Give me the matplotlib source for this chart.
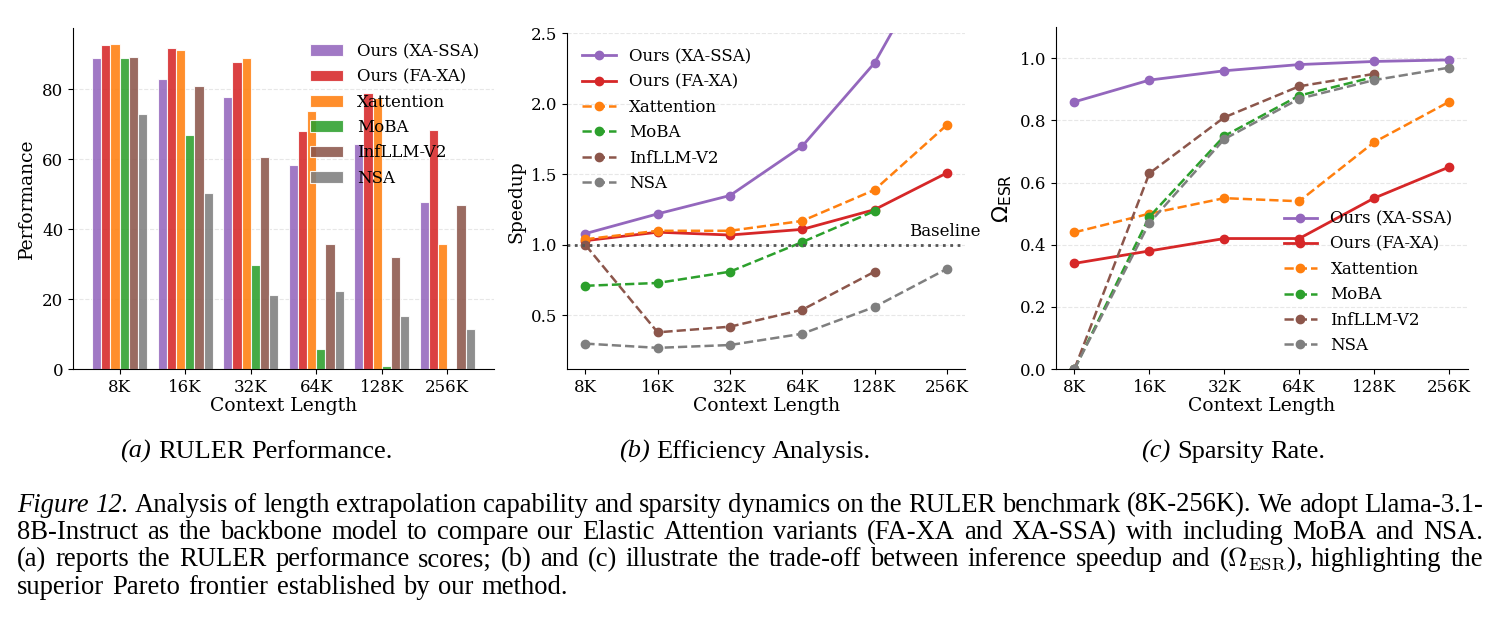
import numpy as np
import matplotlib
matplotlib.use("Agg")
import matplotlib.pyplot as plt

plt.rcParams['font.family'] = ['DejaVu Serif']

contexts = ['8K', '16K', '32K', '64K', '128K', '256K']
methods = ['Ours (XA-SSA)', 'Ours (FA-XA)', 'Xattention', 'MoBA', 'InfLLM-V2', 'NSA']
colors = ['#9467bd', '#d62728', '#ff7f0e', '#2ca02c', '#8c564b', '#7f7f7f']
styles = ['-', '-', '--', '--', '--', '--']

# (a) RULER performance
perf_xa_ssa = [88.9, 82.8, 77.6, 58.4, 64.3, 47.6]
perf_fa_xa = [92.7, 91.8, 87.6, 68.1, 78.8, 68.4]
perf_xatt = [92.8, 91.1, 88.9, 73.7, 77.4, 35.6]
perf_moba = [88.9, 66.9, 29.8, 5.8, 1.0, 0.0]
perf_infllm = [89.1, 80.8, 60.7, 35.6, 32.1, 47.0]
perf_nsa = [73.0, 50.4, 21.2, 22.3, 15.2, 11.3]

# (b) speedup
sp_xa_ssa = [1.08, 1.22, 1.35, 1.70, 2.29, 3.20]
sp_fa_xa = [1.03, 1.09, 1.07, 1.11, 1.25, 1.51]
sp_xatt = [1.04, 1.10, 1.10, 1.17, 1.39, 1.85]
sp_moba = [0.71, 0.73, 0.81, 1.02, 1.24, None]
sp_infllm = [1.00, 0.38, 0.42, 0.54, 0.81, None]
sp_nsa = [0.30, 0.27, 0.29, 0.37, 0.56, 0.83]

# (c) sparsity rate
esr_xa_ssa = [0.86, 0.93, 0.96, 0.98, 0.99, 0.995]
esr_fa_xa = [0.34, 0.38, 0.42, 0.42, 0.55, 0.65]
esr_xatt = [0.44, 0.50, 0.55, 0.54, 0.73, 0.86]
esr_moba = [0.0, 0.49, 0.75, 0.88, 0.94, None]
esr_infllm = [0.0, 0.63, 0.81, 0.91, 0.95, None]
esr_nsa = [0.0, 0.47, 0.74, 0.87, 0.93, 0.97]

perf = [perf_xa_ssa, perf_fa_xa, perf_xatt, perf_moba, perf_infllm, perf_nsa]
speed = [sp_xa_ssa, sp_fa_xa, sp_xatt, sp_moba, sp_infllm, sp_nsa]
esr = [esr_xa_ssa, esr_fa_xa, esr_xatt, esr_moba, esr_infllm, esr_nsa]

fig = plt.figure(figsize=(14.96, 6.23), dpi=100)
ax1 = fig.add_axes([0.0488, 0.4077, 0.2814, 0.5473])
ax2 = fig.add_axes([0.3792, 0.4077, 0.2658, 0.5388])
ax3 = fig.add_axes([0.7057, 0.4077, 0.2754, 0.5485])

x = np.arange(len(contexts))
w = 0.14

def style_ax(ax):
    ax.spines['top'].set_visible(False)
    ax.spines['right'].set_visible(False)
    ax.grid(axis='y', linestyle='--', alpha=0.3)
    ax.set_axisbelow(True)
    ax.tick_params(labelsize=12)
    ax.set_xticks(x)
    ax.set_xticklabels(contexts)
    ax.set_xlabel('Context Length', fontsize=13.5, labelpad=1)

# (a)
for i, (vals, m, c) in enumerate(zip(perf, methods, colors)):
    ax1.bar(x + (i - 2.5) * w, vals, w, color=c, alpha=0.88, edgecolor='white',
            linewidth=0.8, label=m)
style_ax(ax1)
ax1.set_ylabel('Performance', fontsize=13.5)
ax1.set_yticks([0, 20, 40, 60, 80])
ax1.legend(loc='upper right', frameon=False, fontsize=12)

# (b)
for vals, m, c, ls in zip(speed, methods, colors, styles):
    y = np.array(vals, dtype=float)
    ax2.plot(x, y, ls, color=c, marker='o', markersize=6,
             linewidth=2 if ls == '-' else 1.8, label=m)
ax2.axhline(1.0, color='#555555', linestyle=':', linewidth=2)
ax2.text(5.47, 1.035, 'Baseline', ha='right', va='bottom', fontsize=12)
style_ax(ax2)
ax2.set_ylim(0.12, 2.5)
ax2.set_yticks([0.5, 1.0, 1.5, 2.0, 2.5])
ax2.set_ylabel('Speedup', fontsize=13.5)
ax2.legend(loc='upper left', frameon=False, fontsize=12)

# (c)
for vals, m, c, ls in zip(esr, methods, colors, styles):
    y = np.array(vals, dtype=float)
    ax3.plot(x, y, ls, color=c, marker='o', markersize=6,
             linewidth=2 if ls == '-' else 1.8, label=m)
style_ax(ax3)
ax3.set_ylim(0, 1.1)
ax3.set_yticks([0.0, 0.2, 0.4, 0.6, 0.8, 1.0])
ax3.set_ylabel(r'$\Omega_{\mathrm{ESR}}$', fontsize=16)
ax3.legend(loc='lower right', frameon=False, fontsize=12)

# captions, set word by word so the paragraph can be justified
renderer = fig.canvas.get_renderer()
W = fig.get_figwidth() * fig.dpi
H = fig.get_figheight() * fig.dpi
cap_font = dict(family='Liberation Serif', math_fontfamily='cm', va='baseline')

def space_width(size):
    a = fig.text(0, 0, 'a a', fontsize=size, **cap_font)
    b = fig.text(0, 0, 'aa', fontsize=size, **cap_font)
    sp = a.get_window_extent(renderer).width - b.get_window_extent(renderer).width
    a.remove()
    b.remove()
    return sp

def place(words, ybase, size):
    objs = [fig.text(0, 1 - ybase / H, wd, fontsize=size, style=st, **cap_font)
            for wd, st in words]
    widths = [t.get_window_extent(renderer).width for t in objs]
    return objs, widths

def justified(words, x0, x1, ybase, size, stretch):
    objs, widths = place(words, ybase, size)
    space = space_width(size) * 1.25
    if stretch:
        space = (x1 - x0 - sum(widths)) / (len(objs) - 1)
    pos = x0
    for t, wd in zip(objs, widths):
        t.set_x(pos / W)
        pos += wd + space

def centered(words, xc, ybase, size):
    objs, widths = place(words, ybase, size)
    space = space_width(size)
    pos = xc - (sum(widths) + space * (len(objs) - 1)) / 2
    for t, wd in zip(objs, widths):
        t.set_x(pos / W)
        pos += wd + space

sub_size = 19
centered([('(a)', 'italic'), ('RULER', 'normal'), ('Performance.', 'normal')], 256.5, 458, sub_size)
centered([('(b)', 'italic'), ('Efficiency', 'normal'), ('Analysis.', 'normal')], 745, 458, sub_size)
centered([('(c)', 'italic'), ('Sparsity', 'normal'), ('Rate.', 'normal')], 1233.5, 458, sub_size)

caption_lines = [
    'Analysis of length extrapolation capability and sparsity dynamics on the RULER benchmark (8K-256K). We adopt Llama-3.1-',
    '8B-Instruct as the backbone model to compare our Elastic Attention variants (FA-XA and XA-SSA) with including MoBA and NSA.',
    r'(a) reports the RULER performance scores; (b) and (c) illustrate the trade-off between inference speedup and ($\Omega_{\mathrm{ESR}}$), highlighting the',
    'superior Pareto frontier established by our method.',
]
cap_size = 19.2
line_y = [511.5, 539, 566.5, 594]
for k, line in enumerate(caption_lines):
    words = [(wd, 'normal') for wd in line.split(' ')]
    if k == 0:
        words = [('Figure', 'italic'), ('12.', 'italic')] + words
    justified(words, 17, 1483, line_y[k], cap_size, stretch=(k < 3))

fig.savefig('out.png', dpi=100)
